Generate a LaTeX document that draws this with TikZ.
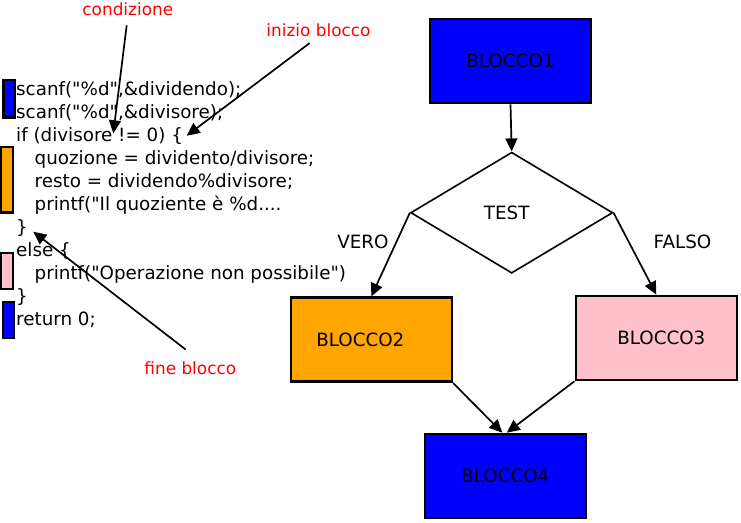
\documentclass[tikz,border=0pt]{standalone}
\usepackage{fontspec}
\setmainfont{DejaVu Sans}[Ligatures=TeXOff]
\usetikzlibrary{arrows.meta,shapes.geometric}
\definecolor{bloccoblu}{HTML}{0000FF}
\definecolor{bloccoarancio}{HTML}{FFA500}
\definecolor{bloccorosa}{HTML}{FFC0CB}
\tikzset{
  >={Triangle[length=13pt,width=12pt]},
  blocco/.style ={draw, line width=2.6pt, minimum width=161pt, minimum height=84pt, font=\fontsize{18.3pt}{22pt}\selectfont},
  rombo/.style  ={draw, diamond, line width=1.6pt, minimum width=202pt, minimum height=121pt, inner sep=0pt, font=\fontsize{18.3pt}{22pt}\selectfont},
  codice/.style ={anchor=base west, inner sep=0pt, font=\fontsize{18.3pt}{22pt}\selectfont},
  etich/.style  ={anchor=base, inner sep=0pt, font=\fontsize{18.3pt}{22pt}\selectfont},
  nota/.style   ={anchor=base, inner sep=0pt, text=red, font=\fontsize{16.9pt}{20pt}\selectfont},
  barra/.style  ={draw, line width=2.4pt},
  freccia/.style={->, line width=1.7pt},
}

\begin{document}
\begin{tikzpicture}[x=1pt,y=-1pt]
  \useasboundingbox (0,0) rectangle (741,522);

  % codice
  \draw[barra, fill=bloccoblu] (3.3,80) rectangle (15,117.3);
  \draw[barra, fill=bloccoarancio] (1,146.7) rectangle (13,212.3);
  \draw[barra, fill=bloccorosa] (1,252.7) rectangle (13,289);
  \draw[barra, fill=bloccoblu] (2.7,301.7) rectangle (14,338);

  \node[codice] (r1) at (16,95.5) {scanf("\%d",\&dividendo);};
  \node[codice] (r2) at (16,118.5) {scanf("\%d",\&divisore);};
  \node[codice] (r3) at (16,141.5) {if (divisore != 0) \{};
  \node[codice] (r4) at (34.5,164.5) {quozione = dividento/divisore;};
  \node[codice] (r5) at (34.5,187.5) {resto = dividendo\%divisore;};
  \node[codice] (r6) at (34.5,210.5) {printf("Il quoziente è \%d....};
  \node[codice] (r7) at (16,233.5) {\}};
  \node[codice] (r8) at (16,256.5) {else \{};
  \node[codice] (r9) at (34.5,279.5) {printf("Operazione non possibile")};
  \node[codice] (r10) at (16,302.5) {\}};
  \node[codice] (r11) at (16,325.5) {return 0;};

  \node[nota] (cond) at (127.8,16) {condizione};
  \node[nota] (ini) at (318.5,36) {inizio blocco};
  \node[nota] (fine) at (190.3,374.3) {fine blocco};
  \coordinate (pcond) at (113.3,133.3);
  \coordinate (pini) at (186.7,135.7);
  \coordinate (pfine) at (33.3,231.7);
  \draw[freccia, shorten <=9pt] (cond.south) -- (pcond);
  \draw[freccia, shorten <=11pt] (ini.south) -- (pini);
  \draw[freccia] ([xshift=-4.6pt,yshift=11.7pt]fine.north) -- (pfine);

  % diagramma
  \node[blocco, fill=bloccoblu] (b1) at (510.5,61) {BLOCCO1};
  \node[rombo] (test) at (511.7,212.7) {\raisebox{-1.5pt}{TEST}\hspace*{10pt}};
  \node[blocco, fill=bloccoarancio] (b2) at (371.3,339.7) {BLOCCO2\hspace*{22pt}};
  \node[blocco, fill=bloccorosa] (b3) at (656.3,337.9) {\hspace*{10pt}BLOCCO3};
  \node[blocco, fill=bloccoblu] (b4) at (505.3,476) {BLOCCO4};

  \node[etich] (vero) at (363,248.3) {VERO};
  \node[etich] (falso) at (682.5,248) {FALSO};

  \draw[freccia] (b1.south) -- (test.north);
  \draw[freccia] (test.west) -- (b2.north);
  \draw[freccia] (test.east) -- (b3.north);
  \draw[freccia] (b2.south east) -- ([xshift=-3pt]b4.north);
  \draw[freccia] (b3.south west) -- ([xshift=1.5pt]b4.north);
\end{tikzpicture}
\end{document}
